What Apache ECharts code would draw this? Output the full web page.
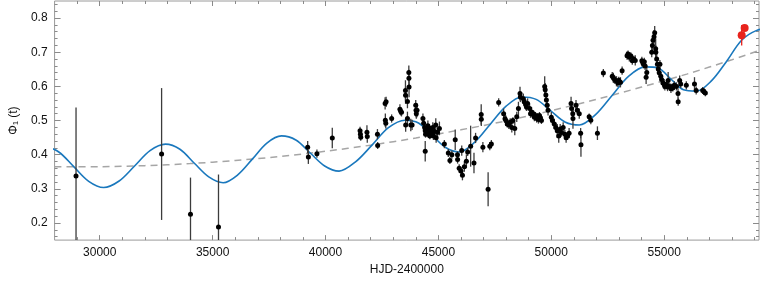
<!DOCTYPE html>
<html><head><meta charset="utf-8">
<script src="https://cdn.jsdelivr.net/npm/echarts@6/dist/echarts.min.js"></script>
<style>html,body{margin:0;padding:0;background:#fff}#c{width:760px;height:281px}</style>
</head><body><div id="c"></div>
<script>
// ---- tick labels ----
const xTicks = [30000, 35000, 40000, 45000, 50000, 55000];
const yTicks = [0.2, 0.3, 0.4, 0.5, 0.6, 0.7, 0.8];

// ---- fitted long-term trend (dashed) ----
const trendDay = [28000, 30000, 32000, 34000, 36000, 38000, 40000, 42000, 44000, 46000, 48000, 50000, 52000, 54000, 56000, 58000, 60000];
const trendPhi = [0.365, 0.365, 0.368, 0.374, 0.383, 0.395, 0.410, 0.428, 0.449, 0.473, 0.499, 0.529, 0.562, 0.598, 0.636, 0.678, 0.723];

// ---- fitted model (blue) ----
const fitDay = [27524, 28187, 28849, 29512, 30174, 30859, 31544, 32228, 32913, 33552, 34190, 34829, 35467, 36112, 36758, 37403, 38048, 38686, 39324, 39962, 40600, 41329, 42058, 42787, 43516, 44118, 44719, 45321, 45922, 46614, 47307, 47999, 48691, 49329, 49967, 50604, 51242, 51972, 52701, 53431, 54160, 54725, 55290, 55856, 56421, 57091, 57761, 58430, 59100, 59800];
const fitPhi = [0.426, 0.408, 0.365, 0.322, 0.304, 0.323, 0.367, 0.412, 0.431, 0.416, 0.375, 0.335, 0.318, 0.341, 0.387, 0.434, 0.455, 0.443, 0.405, 0.367, 0.352, 0.379, 0.428, 0.479, 0.501, 0.493, 0.457, 0.421, 0.408, 0.437, 0.490, 0.542, 0.569, 0.562, 0.529, 0.496, 0.487, 0.518, 0.574, 0.630, 0.657, 0.654, 0.622, 0.590, 0.586, 0.616, 0.673, 0.735, 0.764, 0.772];

// ---- observations (black) ----
const obsDay = [
 28950, 32740, 34020, 35260, 39210, 39240, 39620, 40300, 41530, 41546,
 41560, 41835, 41850, 42300, 42310, 42640, 42684, 42650, 42670, 42929,
 43296, 43330, 43366, 43541, 43545, 43690, 43695, 43700, 43550, 43629,
 43777, 43834, 43629, 43996, 44010, 44022, 44053, 44315, 44346, 44390,
 44416, 44430, 44416, 44450, 44500, 44534, 44560, 44600, 44621, 44650,
 44700, 44752, 44780, 44820, 44884, 44900, 44960, 45045, 45264, 45439,
 45509, 45597, 45745, 45846, 45850, 45920, 46000, 46065, 46150, 46034,
 46240, 46297, 46428, 46576, 46647, 46896, 46900, 46970, 47202, 47276,
 47346, 47670, 47889, 47950, 47990, 48050, 48120, 48180, 48252, 48300,
 48383, 48470, 48545, 48615, 48630, 48763, 48800, 48864, 48900, 48951,
 49039, 49080, 49126, 49214, 49250, 49301, 49350, 49389, 49430, 49476,
 49520, 49564, 49708, 49730, 49760, 49783, 49820, 49857, 50001, 50050,
 50133, 50200, 50264, 50330, 50395, 50450, 50526, 50600, 50657, 50720,
 50789, 50876, 50900, 50951, 50960, 51095, 51150, 51239, 51300, 51314,
 51677, 51751, 52044, 52306, 52700, 52750, 52801, 52888, 52950, 52989,
 53063, 53137, 53356, 53400, 53457, 53520, 53588, 53650, 53719, 54012,
 54050, 54082, 54120, 54156, 54200, 54230, 54449, 54480, 54506, 54550,
 54580, 54624, 54630, 54668, 54700, 54738, 54812, 54780, 54850, 54887,
 54944, 55000, 55031, 55106, 55150, 55176, 55250, 55300, 55338, 55381,
 55450, 55543, 55613, 55620, 55687, 55731, 55980, 56343, 56418, 56706,
 56760, 56824];
const obsPhi = [
 0.338, 0.402, 0.226, 0.188, 0.422, 0.393, 0.403, 0.449, 0.470, 0.460,
 0.451, 0.466, 0.453, 0.460, 0.427, 0.550, 0.555, 0.501, 0.492, 0.506,
 0.533, 0.527, 0.524, 0.588, 0.574, 0.641, 0.624, 0.598, 0.487, 0.506,
 0.487, 0.487, 0.556, 0.545, 0.530, 0.520, 0.530, 0.506, 0.492, 0.480,
 0.470, 0.460, 0.410, 0.475, 0.468, 0.485, 0.460, 0.478, 0.455, 0.470,
 0.462, 0.480, 0.455, 0.468, 0.487, 0.450, 0.466, 0.477, 0.431, 0.405,
 0.383, 0.400, 0.444, 0.400, 0.386, 0.360, 0.352, 0.340, 0.365, 0.412,
 0.381, 0.408, 0.425, 0.376, 0.449, 0.518, 0.504, 0.422, 0.299, 0.425,
 0.431, 0.553, 0.520, 0.505, 0.500, 0.490, 0.487, 0.495, 0.480, 0.500,
 0.477, 0.511, 0.535, 0.579, 0.569, 0.564, 0.555, 0.547, 0.540, 0.550,
 0.535, 0.520, 0.525, 0.520, 0.510, 0.515, 0.506, 0.512, 0.503, 0.515,
 0.508, 0.500, 0.600, 0.590, 0.575, 0.560, 0.545, 0.530, 0.510, 0.500,
 0.490, 0.480, 0.470, 0.455, 0.475, 0.465, 0.480, 0.460, 0.450, 0.455,
 0.463, 0.550, 0.535, 0.520, 0.506, 0.545, 0.530, 0.520, 0.463, 0.429,
 0.511, 0.501, 0.463, 0.639, 0.630, 0.625, 0.620, 0.615, 0.610, 0.618,
 0.612, 0.646, 0.690, 0.695, 0.685, 0.690, 0.675, 0.680, 0.676, 0.675,
 0.670, 0.665, 0.672, 0.660, 0.627, 0.641, 0.700, 0.720, 0.735, 0.745,
 0.757, 0.710, 0.700, 0.680, 0.665, 0.651, 0.665, 0.640, 0.630, 0.620,
 0.610, 0.607, 0.600, 0.605, 0.598, 0.617, 0.600, 0.593, 0.598, 0.595,
 0.603, 0.600, 0.579, 0.555, 0.617, 0.607, 0.603, 0.607, 0.588, 0.588,
 0.585, 0.581];
const obsErr = [
 0.200, 0.193, 0.107, 0.154, 0.018, 0.020, 0.012, 0.030, 0.012, 0.012,
 0.010, 0.020, 0.018, 0.015, 0.010, 0.018, 0.015, 0.020, 0.015, 0.012,
 0.015, 0.012, 0.012, 0.030, 0.025, 0.020, 0.025, 0.030, 0.020, 0.020,
 0.018, 0.015, 0.020, 0.015, 0.020, 0.015, 0.020, 0.015, 0.012, 0.015,
 0.012, 0.010, 0.030, 0.010, 0.012, 0.015, 0.010, 0.012, 0.010, 0.012,
 0.010, 0.015, 0.012, 0.020, 0.020, 0.015, 0.012, 0.020, 0.012, 0.012,
 0.010, 0.012, 0.030, 0.010, 0.012, 0.012, 0.012, 0.015, 0.015, 0.015,
 0.020, 0.012, 0.060, 0.030, 0.015, 0.030, 0.020, 0.015, 0.050, 0.012,
 0.012, 0.012, 0.015, 0.012, 0.015, 0.010, 0.012, 0.012, 0.015, 0.010,
 0.020, 0.015, 0.020, 0.020, 0.015, 0.015, 0.012, 0.015, 0.012, 0.015,
 0.015, 0.012, 0.015, 0.010, 0.012, 0.010, 0.012, 0.010, 0.012, 0.010,
 0.012, 0.010, 0.030, 0.020, 0.020, 0.015, 0.015, 0.015, 0.015, 0.012,
 0.015, 0.012, 0.020, 0.020, 0.015, 0.012, 0.015, 0.012, 0.015, 0.012,
 0.015, 0.020, 0.020, 0.020, 0.030, 0.015, 0.012, 0.015, 0.015, 0.035,
 0.010, 0.012, 0.020, 0.012, 0.012, 0.015, 0.012, 0.015, 0.012, 0.010,
 0.015, 0.012, 0.012, 0.010, 0.012, 0.010, 0.012, 0.010, 0.015, 0.012,
 0.010, 0.012, 0.012, 0.012, 0.020, 0.020, 0.015, 0.015, 0.015, 0.020,
 0.020, 0.030, 0.020, 0.015, 0.015, 0.012, 0.012, 0.012, 0.012, 0.015,
 0.012, 0.015, 0.012, 0.012, 0.012, 0.025, 0.010, 0.012, 0.010, 0.010,
 0.012, 0.012, 0.015, 0.012, 0.015, 0.012, 0.012, 0.020, 0.012, 0.010,
 0.010, 0.010];

// ---- new observations (red) ----
const newDay = [58433, 58564];
const newPhi = [0.750, 0.771];
const newErr = [0.030, 0.008];

// ---------------------------------------------------------------
const FONT = 'Liberation Sans, Arial, Helvetica, sans-serif';
const X_MIN = 28000, X_MAX = 59200, Y_MIN = 0.15, Y_MAX = 0.85;
const TICK_COLOR = '#8a8a8a';

const xMinor = []; for (let v = 29000; v < X_MAX; v += 1000) if (v % 5000) xMinor.push(v);
const yMinor = []; for (let i = 16; i <= 84; i += 2) if (i % 10) yMinor.push(i / 100);

function axis(dim, pos, vals, len, withLabels, extra) {
  const a = {
    type: 'value', position: pos,
    min: dim === 'x' ? X_MIN : Y_MIN, max: dim === 'x' ? X_MAX : Y_MAX,
    axisLine: { show: false, onZero: false },
    splitLine: { show: false },
    axisTick: { show: true, inside: true, length: len, customValues: vals,
                lineStyle: { color: TICK_COLOR, width: 1 } },
    axisLabel: withLabels ? { show: true, customValues: vals, color: '#111',
                fontSize: 12, fontFamily: FONT, margin: 7,
                formatter: function (v) { return dim === 'x' ? String(Math.round(v)) : (Math.round(v * 10) / 10).toFixed(1); } }
              : { show: false }
  };
  return Object.assign(a, extra || {});
}

const obsData = obsDay.map((d, i) => [d, obsPhi[i], obsErr[i]]);
const newData = newDay.map((d, i) => [d, newPhi[i], newErr[i]]);

function errBar(color) {
  return function (params, api) {
    const x = api.value(0), y = api.value(1), e = api.value(2);
    const p1 = api.coord([x, y - e]);
    const p2 = api.coord([x, y + e]);
    return { type: 'line', shape: { x1: p1[0], y1: p1[1], x2: p2[0], y2: p2[1] },
             style: { stroke: color, lineWidth: 1.3 } };
  };
}

const chart = echarts.init(document.getElementById('c'), null, { renderer: 'canvas' });
chart.setOption({
  animation: false,
  backgroundColor: '#fff',
  grid: { left: 47, right: 1, top: 1, bottom: 38, show: true, borderColor: '#9a9a9a', borderWidth: 1, backgroundColor: 'transparent' },
  xAxis: [
    axis('x', 'bottom', xTicks, 5, true, {
      name: 'HJD-2400000', nameLocation: 'middle', nameGap: 22,
      nameTextStyle: { color: '#111', fontSize: 12, fontFamily: FONT }
    }),
    axis('x', 'bottom', xMinor, 3, false),
    axis('x', 'top', xTicks, 5, false),
    axis('x', 'top', xMinor, 3, false)
  ],
  yAxis: [
    axis('y', 'left', yTicks, 6, true, {
      name: '\u03A6\u2081 (t)', nameLocation: 'middle', nameGap: 31,
      nameTextStyle: { color: '#111', fontSize: 12, fontFamily: FONT }
    }),
    axis('y', 'left', yMinor, 3, false),
    axis('y', 'right', yTicks, 6, false),
    axis('y', 'right', yMinor, 3, false)
  ],
  series: [
    { type: 'line', data: trendDay.map((d, i) => [d, trendPhi[i]]), smooth: 0.33, symbol: 'none',
      lineStyle: { color: '#a6a6a6', width: 1.5, type: [7, 5] }, z: 1, silent: true },
    { type: 'line', data: fitDay.map((d, i) => [d, fitPhi[i]]), smooth: 0.33, symbol: 'none',
      lineStyle: { color: '#1a78bd', width: 1.6 }, z: 2, silent: true },
    { type: 'custom', data: obsData, renderItem: errBar('#3c3c3c'), encode: { x: 0, y: 1 }, clip: true, z: 3, silent: true },
    { type: 'scatter', data: obsData, symbolSize: 5, itemStyle: { color: '#000', opacity: 1 }, z: 4, silent: true },
    { type: 'custom', data: newData, renderItem: errBar('#e8231c'), encode: { x: 0, y: 1 }, clip: true, z: 5, silent: true },
    { type: 'scatter', data: newData, symbolSize: 8, itemStyle: { color: '#e8231c', opacity: 1 }, z: 6, silent: true }
  ]
});
</script>
</body></html>
